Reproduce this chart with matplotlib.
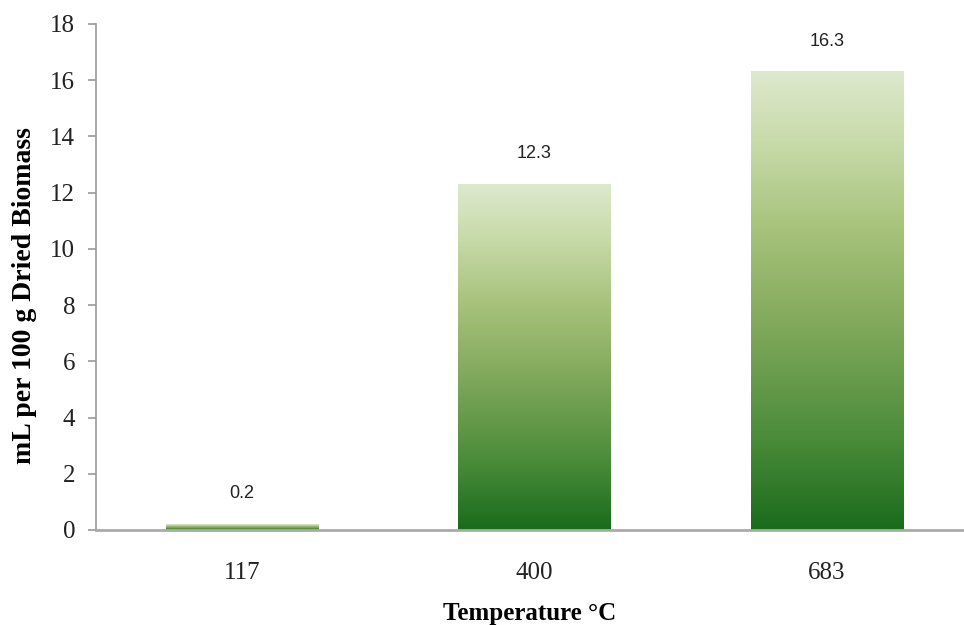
import numpy as np
import matplotlib.pyplot as plt
from matplotlib.colors import LinearSegmentedColormap

# data
temps = ['117', '400', '683']
values = [0.2, 12.3, 16.3]
labels = ['0.2', '12.3', '16.3']

fig = plt.figure(figsize=(9.64, 6.25), dpi=100)
ax = fig.add_axes([0.0996, 0.152, 0.9004, 0.8096])

# green gradient, dark at the bottom of each bar and light at its top
cmap = LinearSegmentedColormap.from_list(
    'grn', [(0.0, '#1a6b1c'), (0.2, '#4a8c3a'), (0.45, '#82a95c'),
            (0.65, '#a6c27a'), (0.85, '#c8dbaa'), (1.0, '#dde9cd')])
grad = np.linspace(0, 1, 256).reshape(-1, 1)

width = 0.52
x = np.arange(len(temps))
bars = ax.bar(x, values, width=width, color='none', edgecolor='none')
for b in bars:
    x0 = b.get_x()
    h = b.get_height()
    ax.imshow(grad, cmap=cmap, origin='lower', aspect='auto',
              extent=[x0, x0 + width, 0, h], zorder=2)

for xi, v, s in zip(x, values, labels):
    ax.annotate(s, (xi, v), xytext=(0, 22), textcoords='offset points',
                ha='center', va='center', fontsize=13,
                family='Liberation Sans', color='#222222')

ax.set_xlim(-0.499, 2.468)
ax.set_ylim(0, 18)
ax.set_yticks(np.arange(0, 19, 2))
ax.set_xticks(x)
ax.set_xticklabels(temps)

for lab in ax.get_xticklabels() + ax.get_yticklabels():
    lab.set_family('Liberation Serif')
    lab.set_fontsize(18)
    lab.set_color('#222222')

ax.tick_params(axis='x', length=0, pad=23)
ax.tick_params(axis='y', length=6, color='#999999', width=1.2, pad=9)

for sp in ['top', 'right']:
    ax.spines[sp].set_visible(False)
ax.spines['left'].set_color('#999999')
ax.spines['left'].set_linewidth(1.2)
ax.spines['bottom'].set_color('#aaaaaa')
ax.spines['bottom'].set_linewidth(2)
ax.spines['bottom'].set_zorder(3)

ax.set_ylabel('mL per 100 g Dried Biomass', family='Liberation Serif',
              fontweight='bold', fontsize=20, va='center')
ax.yaxis.set_label_coords(-0.082, 0.464)
ax.set_xlabel('Temperature °C', family='Liberation Serif',
              fontweight='bold', fontsize=18, labelpad=13)

fig.savefig('out.png', dpi=100)
